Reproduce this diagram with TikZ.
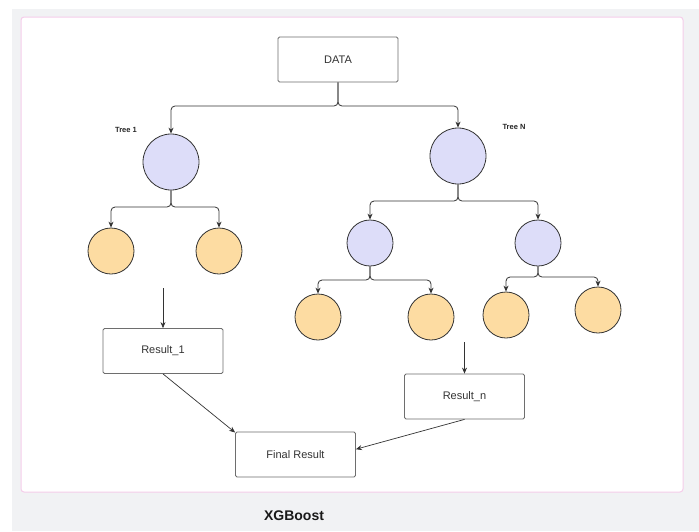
\documentclass[tikz,border=0pt]{standalone}
\usepackage{fontspec}
\setmainfont{Liberation Sans}
\usetikzlibrary{arrows.meta,calc}
\definecolor{pagegray}{HTML}{F1F2F4}
\definecolor{panelpink}{HTML}{F5CDEA}
\definecolor{inner}{HTML}{DDDDF9}
\definecolor{leaf}{HTML}{FDDCA2}
\definecolor{edge}{HTML}{333333}
\definecolor{boxline}{HTML}{6E6E6E}
\tikzset{
  box/.style={draw=boxline, line width=0.8pt, rounded corners=1.5pt, fill=white,
    minimum width=120pt, minimum height=45pt, inner sep=0pt,
    font=\fontsize{11}{12}\selectfont, text=black!80},
  split/.style={draw=edge, fill=inner, circle, line width=0.8pt, inner sep=0pt},
  bigsplit/.style={split, minimum size=56pt},
  smallsplit/.style={split, minimum size=46pt},
  leafnode/.style={draw=edge, fill=leaf, circle, line width=0.8pt, inner sep=0pt, minimum size=46pt},
  conn/.style={draw=edge, line width=0.8pt, rounded corners=4pt, -{Stealth[length=6pt,width=5pt]}},
  arr/.style={draw=edge, line width=0.7pt, -{Stealth[length=6pt,width=5pt]}},
  treelabel/.style={font=\bfseries\fontsize{7.5}{8}\selectfont, text=black!85},
}
\begin{document}
\begin{tikzpicture}[x=1pt,y=-1pt]
  % page and panel
  \useasboundingbox (0,0) rectangle (699,531);
  \fill[white] (0,0) rectangle (699,531);
  \fill[pagegray] (12,9) rectangle (699,531);
  \draw[panelpink, fill=white, line width=1pt, rounded corners=3pt] (21,17) rectangle (683,492);

  % nodes
  \node[box] (data) at (338,59.5) {DATA};
  \node[bigsplit] (t1) at (171,162) {};
  \node[bigsplit] (tn) at (458,156) {};
  \node[treelabel] (l1) at (126,130) {Tree 1};
  \node[treelabel] (ln) at (514,127) {Tree N};

  \node[leafnode] (a1) at (111,251) {};
  \node[leafnode] (a2) at (219,251) {};

  \node[smallsplit] (b1) at (370,243) {};
  \node[smallsplit] (b2) at (538,243) {};

  \node[leafnode] (c1) at (318,317) {};
  \node[leafnode] (c2) at (431,317) {};
  \node[leafnode] (c3) at (506,315) {};
  \node[leafnode] (c4) at (598,310) {};

  \node[box] (res1) at (163,351) {Result\_1};
  \node[box] (resn) at (464.5,396.5) {Result\_n};
  \node[box] (final) at (295.5,454.5) {Final Result};

  \node[font=\bfseries\fontsize{14}{16}\selectfont, text=black!90] (title) at (294,516) {XGBoost};

  % split points of the branches
  \coordinate (s0) at (338,106);
  \coordinate (s1) at (171,207);
  \coordinate (s2) at (458,201);
  \coordinate (s3) at (370,280);
  \coordinate (s4) at (538,277);

  % branches
  \draw[conn] (data.south) -- (s0) -| (t1.north);
  \draw[conn] (data.south) -- (s0) -| (tn.north);
  \draw[conn] (t1.south) -- (s1) -| (a1.north);
  \draw[conn] (t1.south) -- (s1) -| (a2.north);
  \draw[conn] (tn.south) -- (s2) -| (b1.north);
  \draw[conn] (tn.south) -- (s2) -| (b2.north);
  \draw[conn] (b1.south) -- (s3) -| (c1.north);
  \draw[conn] (b1.south) -- (s3) -| (c2.north);
  \draw[conn] (b2.south) -- (s4) -| (c3.north);
  \draw[conn] (b2.south) -- (s4) -| (c4.north);

  % results
  \coordinate (r1in) at (163,288);
  \coordinate (rnin) at (464.5,342);
  \draw[arr] (r1in) -- (res1.north);
  \draw[arr] (rnin) -- (resn.north);
  \draw[arr] (res1.south) -- (final.160);
  \draw[arr] (resn.south) -- (final.5);
\end{tikzpicture}
\end{document}
